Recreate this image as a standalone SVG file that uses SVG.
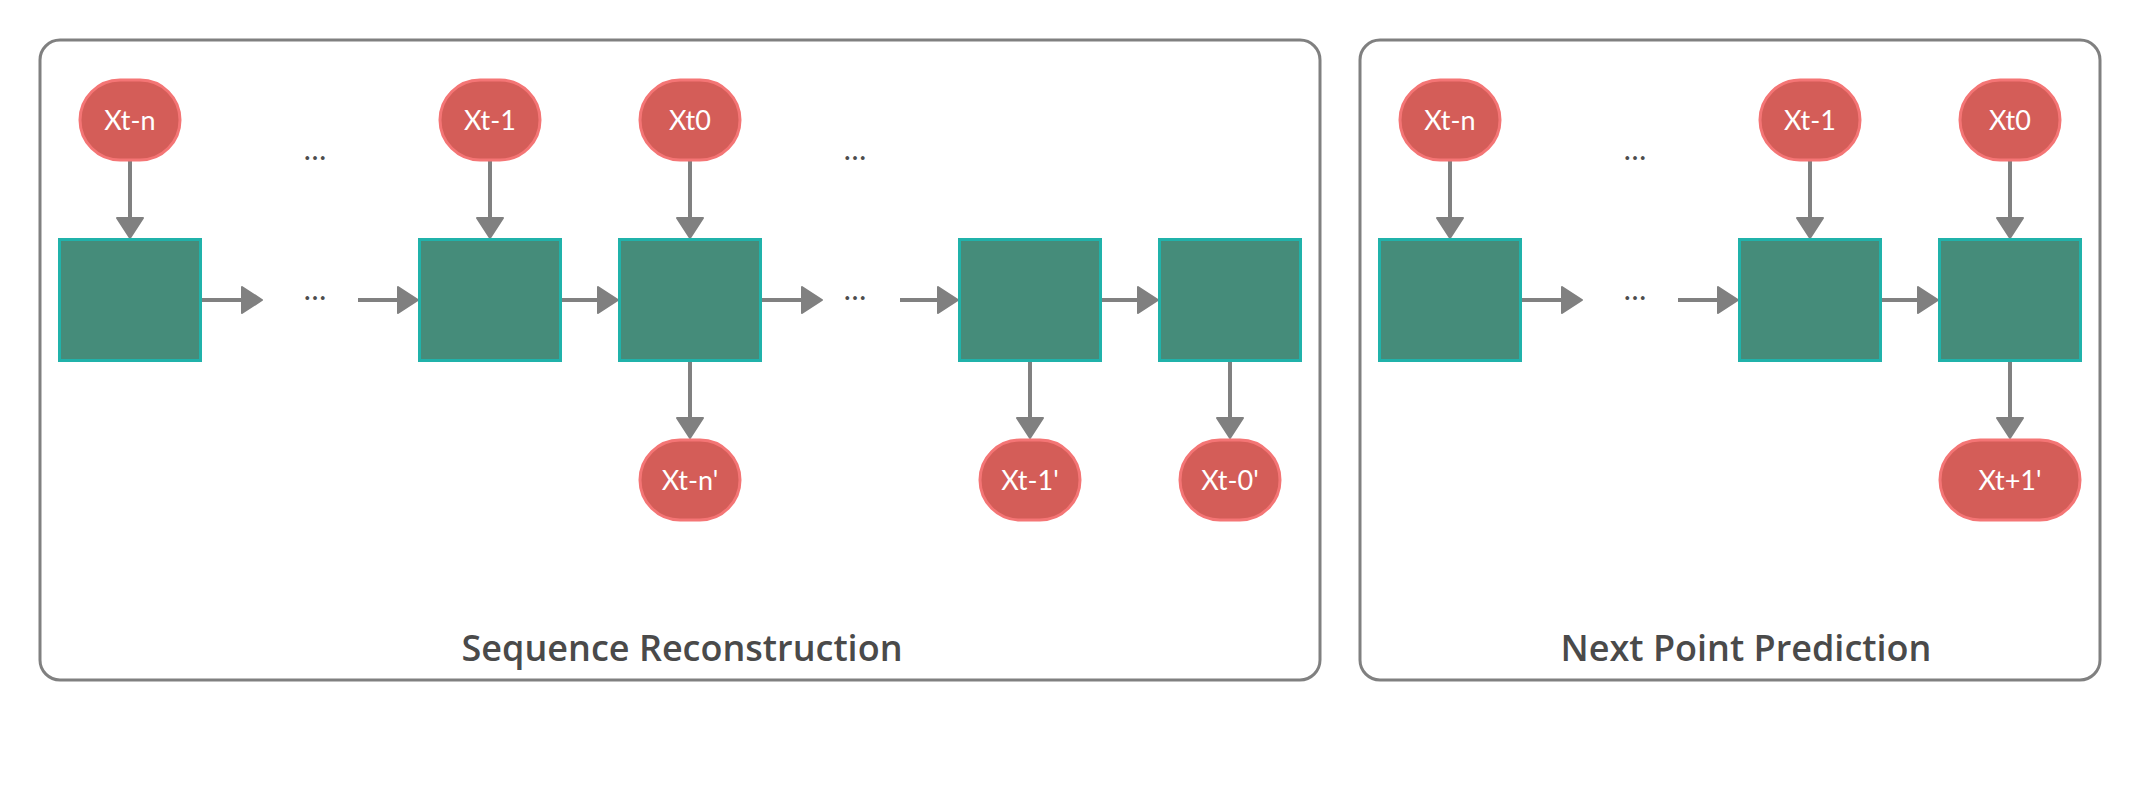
<svg xmlns="http://www.w3.org/2000/svg" width="2140" height="800" viewBox="0 0 2140 800">
  <style>
    .frame { fill: #ffffff; stroke: #808080; stroke-width: 3; }
    .box { fill: #458c7a; stroke: #20b2aa; stroke-width: 3; }
    .pt { fill: #d45d58; stroke: #f47575; stroke-width: 3; }
    .lbl { font-family: Lato, "Open Sans", sans-serif; font-size: 27px; fill: #ffffff; text-anchor: middle; }
    .dots { font-family: Lato, "Open Sans", sans-serif; font-size: 30px; fill: #4d4d4d; text-anchor: middle; }
    .title { font-family: "Open Sans", "Liberation Sans", sans-serif; font-size: 36px; font-weight: 600; fill: #4a4a4a; text-anchor: middle; }
    .conn line { stroke: #808080; stroke-width: 4; marker-end: url(#arr); }
  </style>
  <defs>
    <marker id="arr" markerUnits="userSpaceOnUse" markerWidth="24" markerHeight="30" refX="0" refY="13" orient="auto" overflow="visible">
      <path d="M0,0 L20,13 L0,26 Z" fill="#808080" stroke="#808080" stroke-width="2" stroke-linejoin="round"/>
    </marker>
  </defs>
  <rect width="2140" height="800" fill="#ffffff"/>

  <g id="panel-seq">
    <rect class="frame" x="40" y="40" width="1280" height="640" rx="20"/>
    <text class="title" x="682" y="661">Sequence Reconstruction</text>
  </g>
  <g id="panel-next">
    <rect class="frame" x="1360" y="40" width="740" height="640" rx="20"/>
    <text class="title" x="1746" y="661">Next Point Prediction</text>
  </g>

  <g id="connectors" class="conn">
    <line x1="130" y1="161" x2="130" y2="218"/>
    <line x1="490" y1="161" x2="490" y2="218"/>
    <line x1="690" y1="161" x2="690" y2="218"/>
    <line x1="202" y1="300" x2="242" y2="300"/>
    <line x1="358" y1="300" x2="398" y2="300"/>
    <line x1="562" y1="300" x2="598" y2="300"/>
    <line x1="762" y1="300" x2="802" y2="300"/>
    <line x1="900" y1="300" x2="938" y2="300"/>
    <line x1="1102" y1="300" x2="1138" y2="300"/>
    <line x1="690" y1="362" x2="690" y2="418"/>
    <line x1="1030" y1="362" x2="1030" y2="418"/>
    <line x1="1230" y1="362" x2="1230" y2="418"/>
    <line x1="1450" y1="161" x2="1450" y2="218"/>
    <line x1="1810" y1="161" x2="1810" y2="218"/>
    <line x1="2010" y1="161" x2="2010" y2="218"/>
    <line x1="1522" y1="300" x2="1562" y2="300"/>
    <line x1="1678" y1="300" x2="1718" y2="300"/>
    <line x1="1882" y1="300" x2="1918" y2="300"/>
    <line x1="2010" y1="362" x2="2010" y2="418"/>
  </g>

  <g id="dots">
    <text class="dots" x="315" y="160">…</text>
    <text class="dots" x="855" y="160">…</text>
    <text class="dots" x="315" y="300">…</text>
    <text class="dots" x="855" y="300">…</text>
    <text class="dots" x="1635" y="160">…</text>
    <text class="dots" x="1635" y="300">…</text>
  </g>

  <!-- Sequence Reconstruction nodes -->
  <g id="s-in-tn"><rect class="pt" x="80" y="80" width="100" height="80" rx="40"/><text class="lbl" x="130" y="130">Xt-n</text></g>
  <g id="s-in-t1"><rect class="pt" x="440" y="80" width="100" height="80" rx="40"/><text class="lbl" x="490" y="130">Xt-1</text></g>
  <g id="s-in-t0"><rect class="pt" x="640" y="80" width="100" height="80" rx="40"/><text class="lbl" x="690" y="130">Xt0</text></g>
  <g id="s-cell1"><rect class="box" x="59.5" y="239.5" width="141" height="121"/></g>
  <g id="s-cell2"><rect class="box" x="419.5" y="239.5" width="141" height="121"/></g>
  <g id="s-cell3"><rect class="box" x="619.5" y="239.5" width="141" height="121"/></g>
  <g id="s-cell4"><rect class="box" x="959.5" y="239.5" width="141" height="121"/></g>
  <g id="s-cell5"><rect class="box" x="1159.5" y="239.5" width="141" height="121"/></g>
  <g id="s-out-tn"><rect class="pt" x="640" y="440" width="100" height="80" rx="40"/><text class="lbl" x="690" y="490">Xt-n'</text></g>
  <g id="s-out-t1"><rect class="pt" x="980" y="440" width="100" height="80" rx="40"/><text class="lbl" x="1030" y="490">Xt-1'</text></g>
  <g id="s-out-t0"><rect class="pt" x="1180" y="440" width="100" height="80" rx="40"/><text class="lbl" x="1230" y="490">Xt-0'</text></g>

  <!-- Next Point Prediction nodes -->
  <g id="n-in-tn"><rect class="pt" x="1400" y="80" width="100" height="80" rx="40"/><text class="lbl" x="1450" y="130">Xt-n</text></g>
  <g id="n-in-t1"><rect class="pt" x="1760" y="80" width="100" height="80" rx="40"/><text class="lbl" x="1810" y="130">Xt-1</text></g>
  <g id="n-in-t0"><rect class="pt" x="1960" y="80" width="100" height="80" rx="40"/><text class="lbl" x="2010" y="130">Xt0</text></g>
  <g id="n-cell1"><rect class="box" x="1379.5" y="239.5" width="141" height="121"/></g>
  <g id="n-cell2"><rect class="box" x="1739.5" y="239.5" width="141" height="121"/></g>
  <g id="n-cell3"><rect class="box" x="1939.5" y="239.5" width="141" height="121"/></g>
  <g id="n-out-t1"><rect class="pt" x="1940" y="440" width="140" height="80" rx="40"/><text class="lbl" x="2010" y="490">Xt+1'</text></g>
</svg>
